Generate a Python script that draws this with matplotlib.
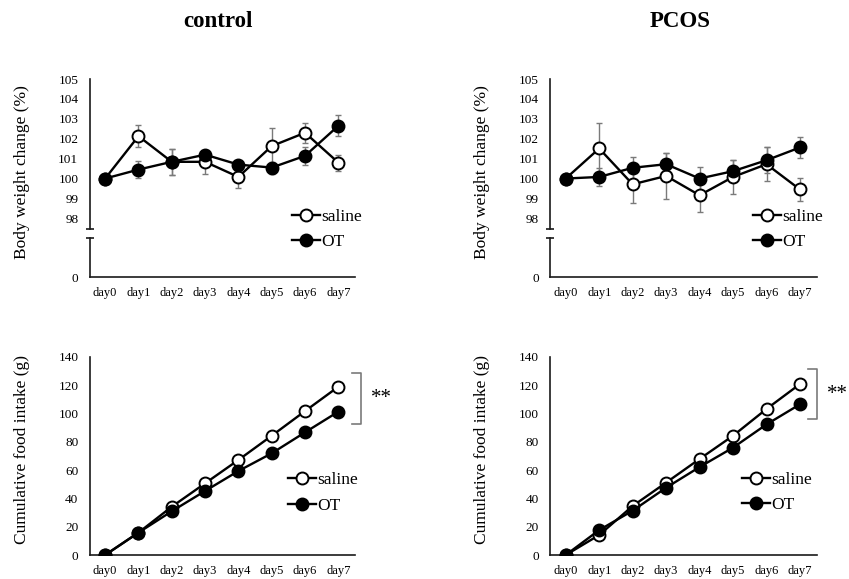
import matplotlib
matplotlib.use("Agg")
import matplotlib.pyplot as plt

plt.rcParams['font.family'] = ['Liberation Serif', 'DejaVu Serif']

days = ["day0", "day1", "day2", "day3", "day4", "day5", "day6", "day7"]

# Body weight change (%)
ctrl_bw_saline = [100.0, 102.13, 100.84, 100.84, 100.08, 101.63, 102.3, 100.8]
ctrl_bw_saline_err = [0.0, 0.54, 0.65, 0.6, 0.55, 0.89, 0.5, 0.4]
ctrl_bw_ot = [100.0, 100.45, 100.84, 101.2, 100.7, 100.55, 101.14, 102.65]
ctrl_bw_ot_err = [0.0, 0.42, 0.65, 0.22, 0.15, 0.3, 0.45, 0.53]

pcos_bw_saline = [100.0, 101.51, 99.71, 100.13, 99.16, 100.08, 100.72, 99.45]
pcos_bw_saline_err = [0.0, 1.3, 0.95, 1.14, 0.84, 0.85, 0.85, 0.6]
pcos_bw_ot = [100.0, 100.08, 100.54, 100.72, 100.0, 100.37, 100.92, 101.56]
pcos_bw_ot_err = [0.0, 0.45, 0.55, 0.55, 0.6, 0.55, 0.64, 0.55]

# Cumulative food intake (g)
ctrl_food_saline = [0.0, 15.8, 34.1, 50.6, 67.1, 84.2, 101.6, 118.8]
ctrl_food_ot = [0.0, 15.8, 30.9, 45.2, 59.3, 71.8, 86.6, 101.2]
pcos_food_saline = [0.0, 14.1, 34.6, 51.1, 67.8, 84.2, 103.1, 120.7]
pcos_food_ot = [0.0, 17.6, 31.3, 47.5, 62.1, 75.8, 92.2, 106.4]

bw_ticks = [98, 99, 100, 101, 102, 103, 104, 105]
food_ticks = [0, 20, 40, 60, 80, 100, 120, 140]

W, H = 849, 579
fig = plt.figure(figsize=(W / 100, H / 100), dpi=100)


def add_ax(left, right, top, bottom):
    ax = fig.add_axes([left / W, 1 - bottom / H, (right - left) / W, (bottom - top) / H])
    ax.patch.set_visible(False)
    return ax


SPINE = '#1a1a1a'
ERR = '#7a7a7a'
x = list(range(len(days)))
XLIM = (-0.47, 7.5)


def style(ax, show_bottom=True):
    for s in ['top', 'right']:
        ax.spines[s].set_visible(False)
    ax.spines['left'].set_color(SPINE)
    ax.spines['left'].set_linewidth(1.2)
    ax.spines['bottom'].set_color(SPINE)
    ax.spines['bottom'].set_linewidth(1.2)
    ax.spines['bottom'].set_visible(show_bottom)
    ax.tick_params(axis='y', length=0, pad=8, labelsize=9.5, colors='black')
    ax.tick_params(axis='x', length=0, pad=7, labelsize=9, colors='black')
    ax.set_xlim(*XLIM)


def series(ax, y, err, filled, label):
    if err is not None:
        ax.errorbar(x, y, yerr=err, fmt='none', ecolor=ERR, elinewidth=1.0,
                    capsize=2.5, capthick=1.0, zorder=2)
    return ax.plot(x, y, '-o', color='black', lw=1.7, markersize=8.6,
                   markerfacecolor='black' if filled else 'white',
                   markeredgecolor='black', markeredgewidth=1.4,
                   label=label, zorder=3)[0]


def legend(handles, left_px, center_px):
    fig.legend(handles=handles, loc='center left',
               bbox_to_anchor=(left_px / W, 1 - center_px / H),
               bbox_transform=fig.transFigure, frameon=False,
               fontsize=12.5, handlelength=1.6, handletextpad=0.1,
               labelspacing=0.55, borderpad=0, borderaxespad=0)


def bw_panel(left, right, s, se, o, oe, leg_left):
    up = add_ax(left, right, 79, 229.3)
    lo = add_ax(left, right, 238.3, 277.3)
    style(up, show_bottom=False)
    style(lo)
    up.set_ylim(97.45, 105)
    up.set_yticks(bw_ticks)
    up.set_xticks([])
    lo.set_ylim(0, 2)
    lo.set_yticks([0])
    lo.set_xticks(x)
    lo.set_xticklabels(days)
    h1 = series(up, s, se, False, 'saline')
    h2 = series(up, o, oe, True, 'OT')
    for a, yy in [(up, 0), (lo, 1)]:
        a.plot([0], [yy], marker='_', markersize=5.5, markeredgewidth=1.2,
               color=SPINE, transform=a.transAxes, clip_on=False)
    legend([h1, h2], leg_left, 229.5)
    return up, lo


def food_panel(left, right, s, o, leg_left, leg_center, bx, by0, by1, star_x):
    ax = add_ax(left, right, 356.7, 555)
    style(ax)
    ax.set_ylim(0, 140)
    ax.set_yticks(food_ticks)
    ax.set_xticks(x)
    ax.set_xticklabels(days)
    h1 = series(ax, s, None, False, 'saline')
    h2 = series(ax, o, None, True, 'OT')
    legend([h1, h2], leg_left, leg_center)
    tick = 0.28
    ax.plot([bx - tick, bx, bx, bx - tick], [by1, by1, by0, by0], color=ERR,
            lw=1.2, clip_on=False)
    ax.text(star_x, (by0 + by1) / 2, '**', fontsize=15, ha='left', va='center')
    return ax


bw_panel(89.5, 355, ctrl_bw_saline, ctrl_bw_saline_err, ctrl_bw_ot, ctrl_bw_ot_err, 292)
bw_panel(550, 816.7, pcos_bw_saline, pcos_bw_saline_err, pcos_bw_ot, pcos_bw_ot_err, 753)
food_panel(89.5, 355, ctrl_food_saline, ctrl_food_ot, 288, 493, 7.69, 92.3, 128.3, 7.97)
food_panel(550, 816.7, pcos_food_saline, pcos_food_ot, 742, 492.5, 7.52, 95.8, 131.1, 7.82)

fig.text(218.5 / W, 1 - 21.7 / H, 'control', fontsize=16.5, fontweight='bold',
         ha='center', va='center')
fig.text(680 / W, 1 - 21.7 / H, 'PCOS', fontsize=16.5, fontweight='bold',
         ha='center', va='center')
for xl in [21.7, 481.7]:
    fig.text(xl / W, 1 - 172 / H, 'Body weight change (%)', fontsize=12.5,
             rotation=90, ha='center', va='center')
    fig.text(xl / W, 1 - 450 / H, 'Cumulative food intake (g)', fontsize=12.5,
             rotation=90, ha='center', va='center')

fig.savefig('out.png', dpi=100)
